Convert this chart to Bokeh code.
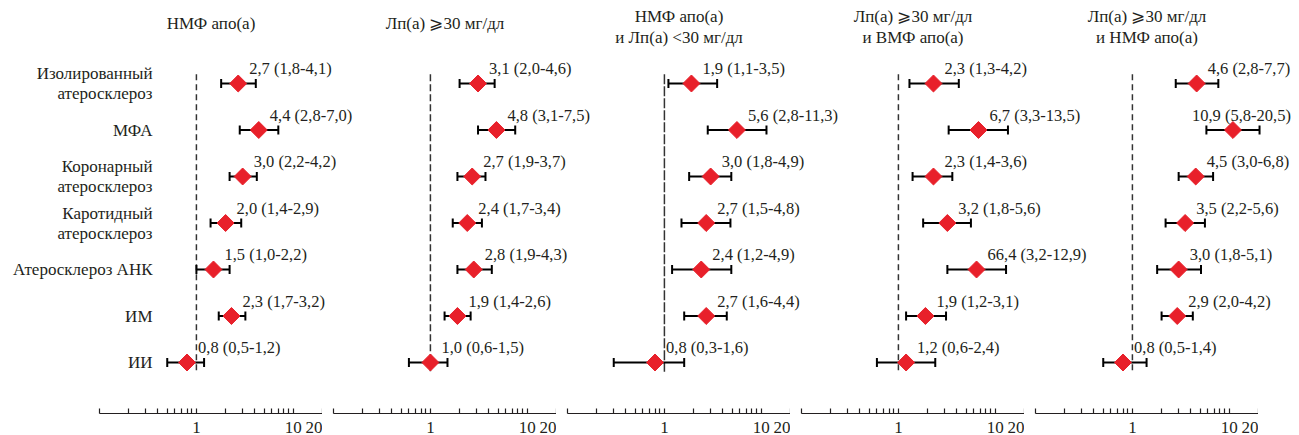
import math
from bokeh.plotting import figure
from bokeh.models import Range1d, LogScale, FixedTicker, CustomJSTickFormatter
from bokeh.layouts import column, row
from bokeh.embed import file_html
from bokeh.resources import INLINE
from bokeh.core.properties import value

# ---------------- data ----------------
ROW_LABELS = [
    "Изолированный\nатеросклероз",
    "МФА",
    "Коронарный\nатеросклероз",
    "Каротидный\nатеросклероз",
    "Атеросклероз АНК",
    "ИМ",
    "ИИ",
]

PANEL_TITLES = [
    "НМФ апо(а)",
    "Лп(а) ⩾30 мг/дл",
    "НМФ апо(а)\nи Лп(а) <30 мг/дл",
    "Лп(а) ⩾30 мг/дл\nи ВМФ апо(а)",
    "Лп(а) ⩾30 мг/дл\nи НМФ апо(а)",
]

EST_1 = [2.7, 4.4, 3.0, 2.0, 1.5, 2.3, 0.8]
LO_1 = [1.8, 2.8, 2.2, 1.4, 1.0, 1.7, 0.5]
HI_1 = [4.1, 7.0, 4.2, 2.9, 2.2, 3.2, 1.2]
LAB_1 = ["2,7 (1,8-4,1)", "4,4 (2,8-7,0)", "3,0 (2,2-4,2)", "2,0 (1,4-2,9)",
         "1,5 (1,0-2,2)", "2,3 (1,7-3,2)", "0,8 (0,5-1,2)"]

EST_2 = [3.1, 4.8, 2.7, 2.4, 2.8, 1.9, 1.0]
LO_2 = [2.0, 3.1, 1.9, 1.7, 1.9, 1.4, 0.6]
HI_2 = [4.6, 7.5, 3.7, 3.4, 4.3, 2.6, 1.5]
LAB_2 = ["3,1 (2,0-4,6)", "4,8 (3,1-7,5)", "2,7 (1,9-3,7)", "2,4 (1,7-3,4)",
         "2,8 (1,9-4,3)", "1,9 (1,4-2,6)", "1,0 (0,6-1,5)"]

EST_3 = [1.9, 5.6, 3.0, 2.7, 2.4, 2.7, 0.8]
LO_3 = [1.1, 2.8, 1.8, 1.5, 1.2, 1.6, 0.3]
HI_3 = [3.5, 11.3, 4.9, 4.8, 4.9, 4.4, 1.6]
LAB_3 = ["1,9 (1,1-3,5)", "5,6 (2,8-11,3)", "3,0 (1,8-4,9)", "2,7 (1,5-4,8)",
         "2,4 (1,2-4,9)", "2,7 (1,6-4,4)", "0,8 (0,3-1,6)"]

EST_4 = [2.3, 6.7, 2.3, 3.2, 6.4, 1.9, 1.2]
LO_4 = [1.3, 3.3, 1.4, 1.8, 3.2, 1.2, 0.6]
HI_4 = [4.2, 13.5, 3.6, 5.6, 12.9, 3.1, 2.4]
LAB_4 = ["2,3 (1,3-4,2)", "6,7 (3,3-13,5)", "2,3 (1,4-3,6)", "3,2 (1,8-5,6)",
         "66,4 (3,2-12,9)", "1,9 (1,2-3,1)", "1,2 (0,6-2,4)"]

EST_5 = [4.6, 10.9, 4.5, 3.5, 3.0, 2.9, 0.8]
LO_5 = [2.8, 5.8, 3.0, 2.2, 1.8, 2.0, 0.5]
HI_5 = [7.7, 20.5, 6.8, 5.6, 5.1, 4.2, 1.4]
LAB_5 = ["4,6 (2,8-7,7)", "10,9 (5,8-20,5)", "4,5 (3,0-6,8)", "3,5 (2,2-5,6)",
         "3,0 (1,8-5,1)", "2,9 (2,0-4,2)", "0,8 (0,5-1,4)"]

EST = [EST_1, EST_2, EST_3, EST_4, EST_5]
LO = [LO_1, LO_2, LO_3, LO_4, LO_5]
HI = [HI_1, HI_2, HI_3, HI_4, HI_5]
LABELS = [LAB_1, LAB_2, LAB_3, LAB_4, LAB_5]

TICKS = [0.1, 0.2, 0.3, 0.4, 0.5, 0.6, 0.7, 0.8, 0.9,
         1, 2, 3, 4, 5, 6, 7, 8, 9, 10, 20]
LABELED_TICKS = [1, 10, 20]
XMIN, XMAX = 0.1, 20
REF = 1

# ---------------- style / layout ----------------
FONT = "Liberation Serif"
FS = "17px"
FS_VAL = "16.5px"
INK = "#231f20"
RED = "#e8202a"
W = 1297
LEFT0 = 99
PW = 223
GAP = 11
MAIN_H = 398
AXIS_H = 37
ROW0 = 83        # px of first row in main canvas
ROW_PX = 46.5    # px between rows
LABEL_RIGHT = 152
DASHES = ["6 4", "7 3", "10 2", "6 4", "6 4"]
LABEL_DX = {(4, 1): -41}

DEC = PW / math.log10(XMAX / XMIN)
n_rows = len(ROW_LABELS)
ys = list(range(n_rows))


def px_to_row(ypx):
    return (ypx - ROW0) / ROW_PX


p = figure(width=W, height=MAIN_H,
           x_range=Range1d(0, W),
           y_range=Range1d(px_to_row(MAIN_H), px_to_row(0)),
           x_axis_type=None, y_axis_type=None,
           output_backend="svg", toolbar_location=None,
           min_border=0, min_border_left=0, min_border_right=0,
           min_border_top=0, min_border_bottom=0,
           outline_line_color=None)

ranges, scales = {}, {}
for k in range(5):
    a = LEFT0 + k * (PW + GAP)
    ranges[f"p{k}"] = Range1d(XMIN * 10 ** (-a / DEC), XMAX * 10 ** ((W - a - PW) / DEC))
    scales[f"p{k}"] = LogScale()
p.extra_x_ranges = ranges
p.extra_x_scales = scales

for k in range(5):
    name = f"p{k}"
    # reference line
    p.segment(x0=[REF], y0=[-0.2], x1=[REF], y1=[n_rows - 1 + 0.2],
              x_range_name=name, line_color="#333333", line_width=1.5,
              line_dash=DASHES[k])
    # CI whiskers
    p.segment(x0=LO[k], y0=ys, x1=HI[k], y1=ys, x_range_name=name,
              line_color="black", line_width=2)
    p.scatter(x=LO[k] + HI[k], y=ys + ys, marker="dash", angle=math.pi / 2,
              size=9, line_color="black", line_width=2, x_range_name=name)
    # point estimates
    p.scatter(x=EST[k], y=ys, marker="square", angle=math.pi / 4, size=12,
              fill_color=RED, line_color=RED, x_range_name=name)
    # value labels
    dx = [LABEL_DX.get((k, i), 11) for i in ys]
    p.text(x=EST[k], y=ys, text=LABELS[k], x_offset=dx, y_offset=-15,
           x_range_name=name, text_font=value(FONT), text_font_size=FS_VAL,
           text_color=INK, text_align="left", text_baseline="middle")
    # titles
    lines = PANEL_TITLES[k].split("\n")
    nl = len(lines)
    if nl == 1:
        tys = [px_to_row(23)]
    else:
        tys = [px_to_row(26 + (i - (nl - 1) / 2) * 21) for i in range(nl)]
    p.text(x=[math.sqrt(XMIN * XMAX)] * nl, y=tys, text=lines,
           x_range_name=name, text_font=value(FONT), text_font_size=FS,
           text_color=INK, text_align="center", text_baseline="middle")

# row labels
lx, ly, lt = [], [], []
for i, lab in enumerate(ROW_LABELS):
    parts = lab.split("\n")
    m = len(parts)
    for j, part in enumerate(parts):
        lx.append(LABEL_RIGHT)
        ly.append(i + ((j - (m - 1) / 2) * 20) / ROW_PX)
        lt.append(part)
p.text(x=lx, y=ly, text=lt, text_font=value(FONT), text_font_size=FS,
       text_color=INK, text_align="right", text_baseline="middle")

# axes strip
axis_figs = []
for k in range(5):
    lb = LEFT0 if k == 0 else GAP
    f = figure(width=lb + PW, height=AXIS_H,
               x_range=Range1d(XMIN, XMAX), y_range=Range1d(0, 1),
               x_axis_type="log", y_axis_type=None,
               output_backend="svg", toolbar_location=None,
               min_border_left=lb, min_border_right=0,
               min_border_top=0, min_border_bottom=0,
               outline_line_color=None)
    f.xgrid.visible = False
    ax = f.xaxis[0]
    ax.ticker = FixedTicker(ticks=TICKS, minor_ticks=[])
    ax.formatter = CustomJSTickFormatter(
        args=dict(show=LABELED_TICKS),
        code="return show.includes(tick) ? String(tick) : ''")
    ax.major_tick_in = 5
    ax.major_tick_out = 0
    ax.minor_tick_line_color = None
    ax.major_label_standoff = 8
    ax.major_label_text_font = FONT
    ax.major_label_text_font_size = FS
    ax.major_label_text_color = INK
    ax.axis_line_color = INK
    ax.major_tick_line_color = INK
    ax.axis_line_width = 1.2
    ax.major_tick_line_width = 1.2
    axis_figs.append(f)

layout = column(p, row(*axis_figs))
open("out.html", "w").write(file_html(layout, INLINE))
